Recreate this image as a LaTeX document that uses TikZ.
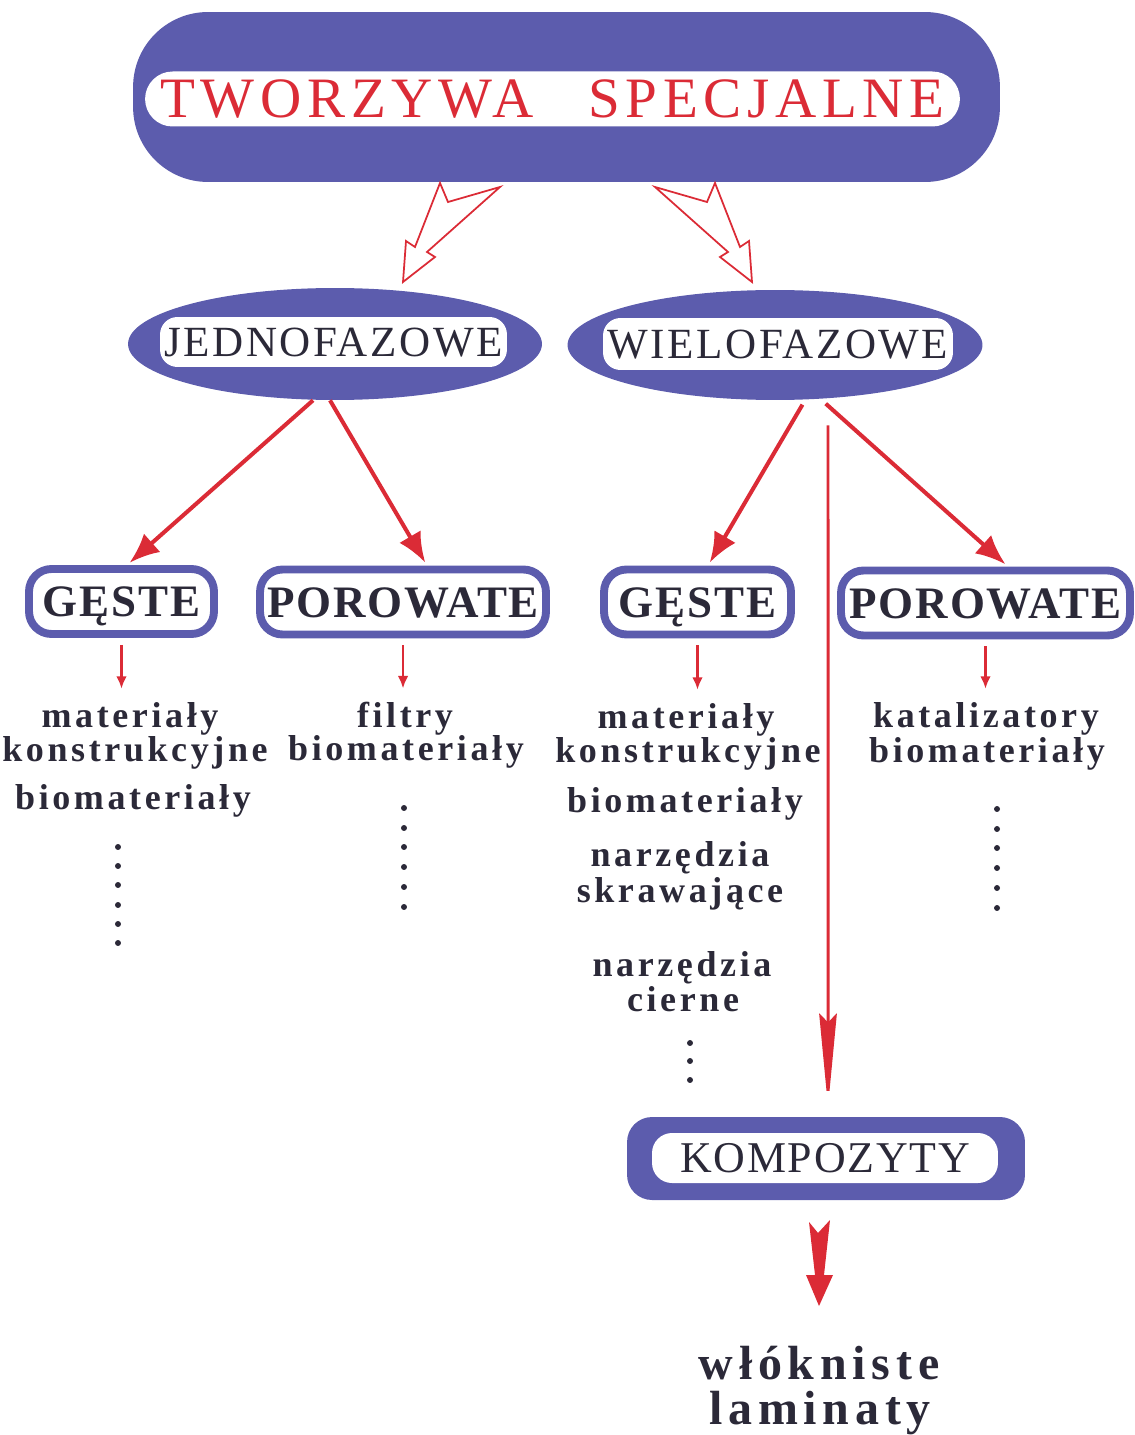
\documentclass[tikz,border=0pt]{standalone}
\usepackage{fontspec}
\usepackage{tikz}
\usetikzlibrary{shapes,arrows.meta}
\definecolor{plblue}{rgb}{0.36,0.36,0.68}
\definecolor{plred}{rgb}{0.86,0.17,0.21}
\definecolor{plink}{rgb}{0.17,0.16,0.22}
\newfontfamily\titlefont[LetterSpace=10]{Liberation Serif}
\newfontfamily\capsfont[LetterSpace=6]{Liberation Serif}
\newfontfamily\kindfont[LetterSpace=4]{Liberation Serif}
\newfontfamily\listfont[LetterSpace=10]{Liberation Serif}
\newfontfamily\bottomfont[LetterSpace=12]{Liberation Serif}
\newcommand{\titlesize}{\titlefont\fontsize{32.5pt}{38pt}\selectfont}
\newcommand{\capssize}{\capsfont\fontsize{24.5pt}{29pt}\selectfont}
\newcommand{\kindsize}{\kindfont\bfseries\fontsize{25.6pt}{30pt}\selectfont}
\newcommand{\listsize}{\listfont\bfseries\fontsize{20.5pt}{24pt}\selectfont}
\newcommand{\bottomsize}{\bottomfont\bfseries\fontsize{27.3pt}{32pt}\selectfont}
\tikzstyle{pill}=[rectangle, fill=plblue, inner sep=0pt]
\tikzstyle{pillin}=[rectangle, fill=white, inner sep=0pt, text=plink, font=\capssize, text height=16.2pt, text depth=0pt]
\tikzstyle{oval}=[ellipse, fill=plblue, inner sep=0pt]
\tikzstyle{kind}=[rectangle, draw=plblue, line width=4.5pt, fill=white, rounded corners=0.45cm, minimum height=1.3cm, inner sep=0pt, text=plink, font=\kindsize, text height=17.3pt, text depth=0pt]
\tikzstyle{item}=[anchor=base, inner sep=0pt, text=plink, font=\listsize]
\tikzstyle{ending}=[anchor=base, inner sep=0pt, text=plink, font=\bottomsize]
\tikzstyle{hollow}=[draw=plred, line width=1pt, line join=miter, fill=white]
\tikzstyle{link}=[draw=plred, line width=2.3pt, -{Latex[length=17pt,width=14pt]}, shorten >=2pt]
\tikzstyle{longlink}=[draw=plred, line width=1.7pt, -{Stealth[length=53pt,width=10pt,inset=5pt]}]
\tikzstyle{droplink}=[draw=plred, line width=1.2pt, -{Latex[length=7pt,width=6pt]}]
\newcommand{\dotcol}[2]{
	\foreach \y in {#2} \fill[plink] (#1,\y) circle (1.7pt);}

\begin{document}
\begin{tikzpicture}[x=0.02cm, y=-0.02cm]
\useasboundingbox (0,0) rectangle (1134,1435);
% top
\node[pill, rounded corners=1.5cm, minimum width=17.34cm, minimum height=3.4cm] (title) at (566.5,97) {};
\node[pillin, rounded corners=0.55cm, minimum width=16.3cm, minimum height=1.1cm, text=plred, font=\titlesize, text height=21.5pt] (titlein) at (552.5,99) {TWORZYWA\hspace{1.1cm}SPECJALNE};
\draw[hollow] (500,187) -- (448,202) -- (440,183) -- (415,247) -- (406,241) -- (403,282) -- (435,257) -- (427,252) -- cycle;
\draw[hollow] (655,187) -- (707,202) -- (715,183) -- (740,247) -- (749,241) -- (752,282) -- (720,257) -- (728,252) -- cycle;
% phases
\node[oval, minimum width=8.28cm, minimum height=2.24cm] (jedno) at (335,344) {};
\node[pillin, rounded corners=0.35cm, minimum width=6.94cm, minimum height=1.0cm] (jednoin) at (333.5,342) {JEDNOFAZOWE};
\node[oval, minimum width=8.3cm, minimum height=2.2cm] (wielo) at (775,345) {};
\node[pillin, rounded corners=0.35cm, minimum width=7.0cm, minimum height=1.04cm] (wieloin) at (778,344) {WIELOFAZOWE};
% kinds
\node[kind, minimum width=3.7cm] (gestel) at (121.5,601.5) {GĘSTE};
\node[kind, minimum width=5.72cm] (porl) at (403,602) {POROWATE};
\node[kind, minimum width=3.74cm] (gester) at (697.5,602) {GĘSTE};
\node[kind, minimum width=5.78cm] (porr) at (985.5,603) {POROWATE};
\draw[link] ([xshift=-0.44cm]jedno.south) -- ([xshift=0.11cm]gestel.north);
\draw[link] ([xshift=-0.1cm]jedno.south) -- ([xshift=0.48cm]porl.north);
\draw[link, shorten <=0.1cm] ([xshift=0.6cm]wielo.south) -- ([xshift=0.21cm]gester.north);
\draw[link, shorten <=0.1cm] ([xshift=0.94cm]wielo.south) -- ([xshift=0.45cm]porr.north);
% lists
\node[item] (matl) at (130,727) {materiały};
\node[item] (konstl) at (135,761) {konstrukcyjne};
\node[item] (biol) at (133,809) {biomateriały};
\node[item] (filtr) at (405,727) {filtry};
\node[item] (biom) at (406,760) {biomateriały};
\node[item] (matr) at (686,728) {materiały};
\node[item] (konstr) at (688,762) {konstrukcyjne};
\node[item] (bior) at (685,812) {biomateriały};
\node[item] (narzs) at (680,866) {narzędzia};
\node[item] (skraw) at (680,902) {skrawające};
\node[item] (narzc) at (682,976) {narzędzia};
\node[item] (cier) at (683,1011) {cierne};
\node[item] (katal) at (986,727) {katalizatory};
\node[item] (biop) at (987,762) {biomateriały};
\draw[droplink, shorten <=0.14cm, shorten >=0.26cm] (gestel.south) -- (gestel.south |- matl.north);
\draw[droplink, shorten <=0.14cm, shorten >=0.26cm] (porl.south) -- (porl.south |- filtr.north);
\draw[droplink, shorten <=0.14cm, shorten >=0.26cm] (gester.south) -- (gester.south |- matr.north);
\draw[droplink, shorten <=0.14cm, shorten >=0.26cm] (porr.south) -- (porr.south |- katal.north);
\dotcol{118}{847,866,885,905,924,943}
\dotcol{404}{808,828,847,867,887,907}
\dotcol{690}{1043,1061,1080}
\dotcol{997}{809,829,848,868,888,908}
% composites
\node[pill, rounded corners=0.5cm, minimum width=7.96cm, minimum height=1.66cm] (kompo) at (826,1158.5) {};
\node[pillin, rounded corners=0.4cm, minimum width=6.92cm, minimum height=1.0cm, font=\kindfont\fontsize{25pt}{30pt}\selectfont] (kompoin) at (825,1158) {KOMPOZYTY};
\draw[longlink, shorten <=0.5cm, shorten >=0.2cm] ([xshift=1.06cm]wielo.south) -- ([xshift=0.04cm]kompo.north);
\fill[plred] (809,1222) -- (818,1233) -- (830,1220) -- (824,1275) -- (833,1275) -- (819,1306) -- (806,1275) -- (815,1275) -- cycle;
\node[ending] (wlok) at (819,1379) {włókniste};
\node[ending] (lamin) at (820,1424) {laminaty};
\end{tikzpicture}
\end{document}
